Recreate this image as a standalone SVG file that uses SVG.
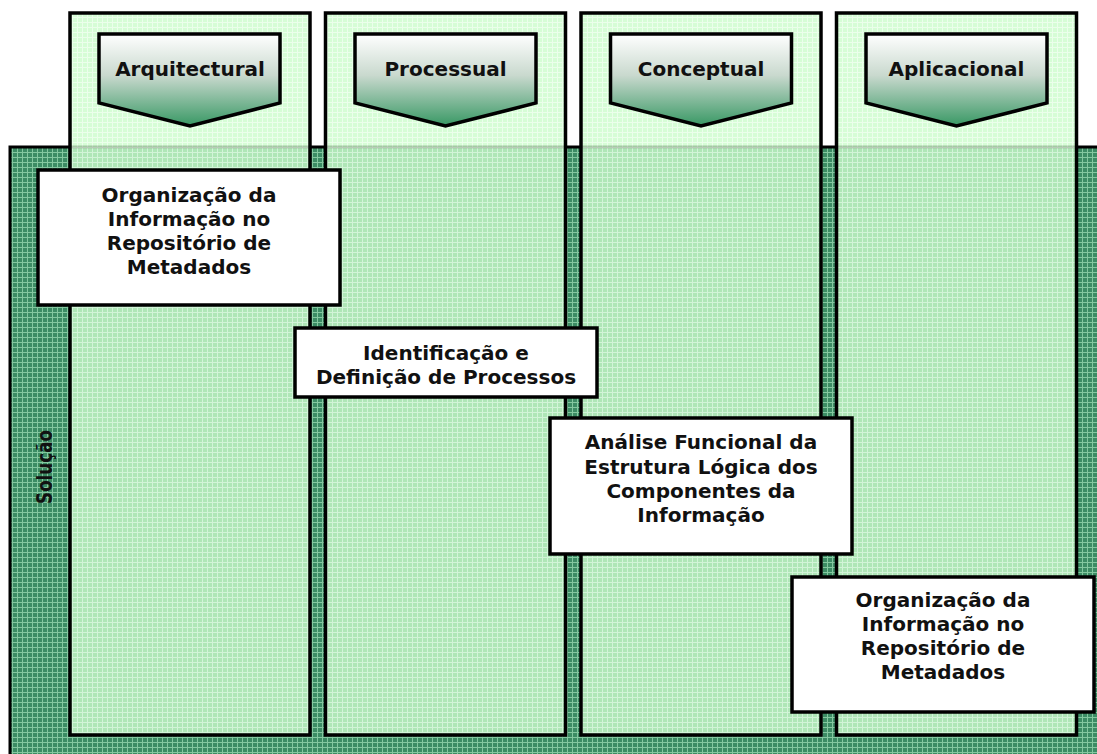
<svg xmlns="http://www.w3.org/2000/svg" width="1097" height="754" viewBox="0 0 1097 754">
  <defs>
    <pattern id="darkGrid" width="5" height="5" patternUnits="userSpaceOnUse">
      <rect width="5" height="5" fill="#3c8c64"/>
      <rect x="0" y="2" width="5" height="1" fill="#84c8a0"/>
      <rect x="2" y="0" width="1" height="5" fill="#84c8a0"/>
    </pattern>
    <pattern id="lightGrid" width="5" height="5" patternUnits="userSpaceOnUse">
      <rect width="5" height="5" fill="#ccfccc"/>
      <rect x="0" y="2" width="5" height="1" fill="#e6ffe6"/>
      <rect x="2" y="0" width="1" height="5" fill="#e6ffe6"/>
    </pattern>
    <linearGradient id="chevFill" x1="0" y1="0" x2="0" y2="1">
      <stop offset="0" stop-color="#ffffff"/>
      <stop offset="0.45" stop-color="#c9d9ce"/>
      <stop offset="1" stop-color="#389864"/>
    </linearGradient>
    <style>
      .lane-fill { fill: url(#lightGrid); opacity: 0.8; }
      .lane-edge { fill: none; stroke: #000; stroke-width: 3.5; }
      .chev { fill: url(#chevFill); stroke: #000; stroke-width: 3.5; stroke-linejoin: miter; }
      .box { fill: #fff; stroke: #000; stroke-width: 3.5; }
      .lbl { font-family: "DejaVu Sans", Verdana, sans-serif; font-weight: bold; font-size: 20px; fill: #111; text-anchor: middle; }
      .side { font-size: 22px; }
    </style>
  </defs>

  <!-- solution band -->
  <g id="solucao">
    <rect x="10" y="147" width="1100" height="620" fill="url(#darkGrid)" stroke="#000" stroke-width="3"/>
    <text class="lbl side" transform="translate(52,467) rotate(-90) scale(0.76,1)">Solução</text>
  </g>

  <!-- lanes -->
  <g id="lane-arquitectural">
    <rect class="lane-fill" x="70" y="13" width="240" height="722"/>
    <rect class="lane-edge" x="70" y="13" width="240" height="722"/>
    <polygon class="chev" points="99,34 280,34 280,103 190,126 99,103"/>
    <text class="lbl" x="190" y="76">Arquitectural</text>
  </g>
  <g id="lane-processual">
    <rect class="lane-fill" x="325.5" y="13" width="240" height="722"/>
    <rect class="lane-edge" x="325.5" y="13" width="240" height="722"/>
    <polygon class="chev" points="355,34 536,34 536,103 445.5,126 355,103"/>
    <text class="lbl" x="445.5" y="76">Processual</text>
  </g>
  <g id="lane-conceptual">
    <rect class="lane-fill" x="581" y="13" width="240" height="722"/>
    <rect class="lane-edge" x="581" y="13" width="240" height="722"/>
    <polygon class="chev" points="610.5,34 791.5,34 791.5,103 701,126 610.5,103"/>
    <text class="lbl" x="701" y="76">Conceptual</text>
  </g>
  <g id="lane-aplicacional">
    <rect class="lane-fill" x="836.5" y="13" width="240" height="722"/>
    <rect class="lane-edge" x="836.5" y="13" width="240" height="722"/>
    <polygon class="chev" points="866,34 1047,34 1047,103 956.5,126 866,103"/>
    <text class="lbl" x="956.5" y="76">Aplicacional</text>
  </g>

  <!-- activity boxes -->
  <g id="box-organizacao-1">
    <rect class="box" x="38" y="170" width="302" height="135"/>
    <text class="lbl" x="189" y="202">Organização da</text>
    <text class="lbl" x="189" y="226">Informação no</text>
    <text class="lbl" x="189" y="250">Repositório de</text>
    <text class="lbl" x="189" y="274">Metadados</text>
  </g>
  <g id="box-identificacao">
    <rect class="box" x="295" y="328" width="302" height="69"/>
    <text class="lbl" x="446" y="360">Identificação e</text>
    <text class="lbl" x="446" y="384">Definição de Processos</text>
  </g>
  <g id="box-analise">
    <rect class="box" x="550" y="418" width="302" height="136"/>
    <text class="lbl" x="701" y="449">Análise Funcional da</text>
    <text class="lbl" x="701" y="473.5">Estrutura Lógica dos</text>
    <text class="lbl" x="701" y="498">Componentes da</text>
    <text class="lbl" x="701" y="522">Informação</text>
  </g>
  <g id="box-organizacao-2">
    <rect class="box" x="792" y="577" width="302" height="135"/>
    <text class="lbl" x="943" y="607">Organização da</text>
    <text class="lbl" x="943" y="631">Informação no</text>
    <text class="lbl" x="943" y="655">Repositório de</text>
    <text class="lbl" x="943" y="679">Metadados</text>
  </g>

  <!-- no connectors are drawn between the activities -->
  <g id="connectors"/>
</svg>
